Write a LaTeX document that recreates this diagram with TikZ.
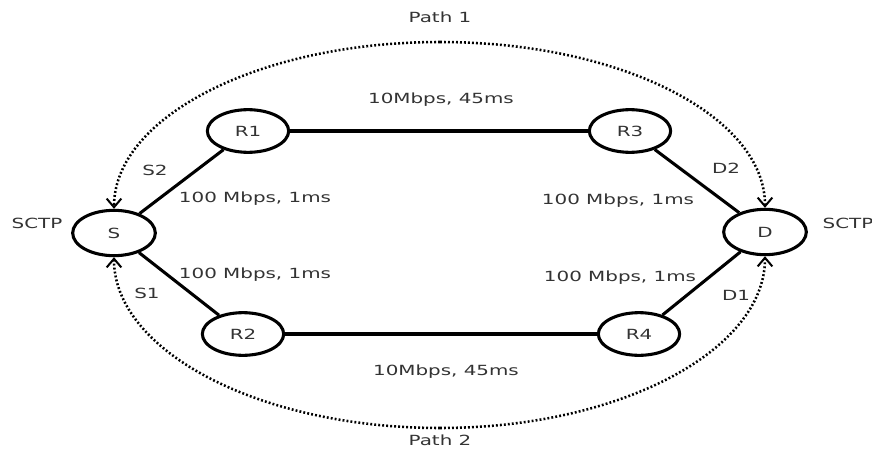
\documentclass[tikz,border=0pt]{standalone}
\usepackage{fontspec}
\setmainfont{DejaVu Sans}
\usetikzlibrary{shapes.geometric,arrows.meta}
\newcommand{\wide}[1]{\scalebox{1.42}[1]{#1}}
\definecolor{txt}{HTML}{333333}
\tikzset{
  host/.style={ellipse, draw, line width=2.3pt, inner sep=0pt, text=txt,
    minimum width=62pt, minimum height=34pt, font=\fontsize{10.5}{12}\selectfont},
  router/.style={ellipse, draw, line width=2.3pt, inner sep=0pt, text=txt,
    minimum width=61pt, minimum height=32pt, font=\fontsize{10.5}{12}\selectfont},
  link/.style={line width=2.3pt},
  path/.style={line width=1.9pt, dash pattern=on 1.4pt off 1.6pt,
    -{Straight Barb[length=6.5pt,width=11pt,line width=1.5pt]}},
  lbl/.style={inner sep=0pt, text=txt, font=\fontsize{10.5}{12}\selectfont}
}
\begin{document}
\begin{tikzpicture}[x=0.75pt,y=-0.75pt]
\useasboundingbox (0,0) rectangle (872,450);
% end hosts and routers
\node[host] (S) at (114,233) {\wide{S}};
\node[host] (D) at (765,232) {\wide{D}};
\node[router] (R1) at (248,131) {\wide{R1}};
\node[router] (R3) at (630,131) {\wide{R3}};
\node[router] (R2) at (243,334) {\wide{R2}};
\node[router] (R4) at (639,334) {\wide{R4}};
% links
\draw[link] (S) -- (R1);
\draw[link] (R1) -- (R3);
\draw[link] (R3) -- (D);
\draw[link] (S) -- (R2);
\draw[link] (R2) -- (R4);
\draw[link] (R4) -- (D);
% SCTP paths
\coordinate (P1top) at (440,42);
\coordinate (P2bot) at (440,428);
\draw[path] (P1top) .. controls +(-180,0) and +(0,-92) .. (S.north);
\draw[path] (P1top) .. controls +(180,0) and +(0,-92) .. (D.north);
\draw[path] (P2bot) .. controls +(-180,0) and +(0,94) .. (S.south);
\draw[path] (P2bot) .. controls +(180,0) and +(0,94) .. (D.south);
% labels
\node[lbl] (p1) at (440,17) {\wide{Path 1}};
\node[lbl] (p2) at (440,440) {\wide{Path 2}};
\node[lbl] (bw1) at (441,100) {\wide{10Mbps, 45ms}};
\node[lbl] (bw2) at (446,372) {\wide{10Mbps, 45ms}};
\node[lbl] (a1) at (255,199) {\wide{100 Mbps, 1ms}};
\node[lbl] (a2) at (255,275) {\wide{100 Mbps, 1ms}};
\node[lbl] (a3) at (618,201) {\wide{100 Mbps, 1ms}};
\node[lbl] (a4) at (620,278) {\wide{100 Mbps, 1ms}};
\node[lbl] (s2) at (155,170) {\wide{S2}};
\node[lbl] (s1) at (147,293) {\wide{S1}};
\node[lbl] (d2) at (726,168) {\wide{D2}};
\node[lbl] (d1) at (736,295) {\wide{D1}};
\node[lbl] (c1) at (37,223) {\wide{SCTP}};
\node[lbl] (c2) at (848,223) {\wide{SCTP}};
\end{tikzpicture}
\end{document}
